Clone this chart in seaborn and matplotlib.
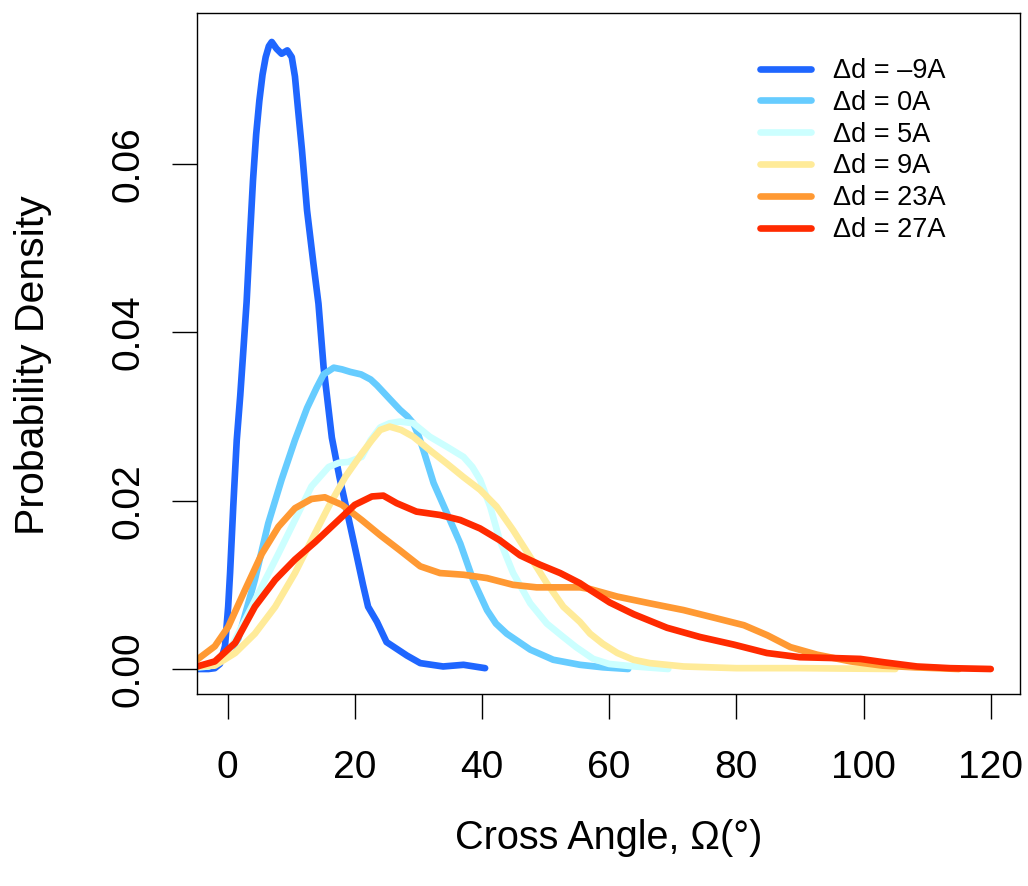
import numpy as np
import pandas as pd
import matplotlib
matplotlib.use("Agg")
import matplotlib.pyplot as plt
import seaborn as sns
from matplotlib.lines import Line2D

# ---------------- data ----------------
labels = ["\u0394d = \u20139A", "\u0394d = 0A", "\u0394d = 5A",
          "\u0394d = 9A", "\u0394d = 23A", "\u0394d = 27A"]
colors = ["#1F66FF", "#66CCFF", "#CCFFFF", "#FFEB99", "#FF9933", "#FF2A00"]

x_m9 = [-4.8, -3.0, -2.0, -1.2, -0.4, 0.1, 0.4, 0.9, 1.45, 2.0, 2.5, 3.0, 3.5,
        4.0, 4.5, 5.0, 5.5, 6.0, 6.5, 6.95, 7.7, 8.5, 9.4, 10.1, 10.6, 11.1,
        11.7, 12.5, 13.5, 14.3, 15.1, 16.4, 17.6, 19.0, 20.3, 21.3, 22.1, 23.5,
        25.0, 26.6, 28.2, 30.3, 33.9, 37.1, 40.5]
y_m9 = [0.0000, 0.0000, 0.0001, 0.0006, 0.0027, 0.0074, 0.0114, 0.0193, 0.0272,
        0.0325, 0.0380, 0.0436, 0.0510, 0.0580, 0.0635, 0.0675, 0.0706, 0.0727,
        0.0740, 0.0745, 0.0737, 0.0731, 0.0735, 0.0727, 0.0704, 0.0664, 0.0617,
        0.0545, 0.0482, 0.0434, 0.0359, 0.0275, 0.0228, 0.0180, 0.0135, 0.0100,
        0.0074, 0.0056, 0.0032, 0.0024, 0.0016, 0.0007, 0.0003, 0.0005, 0.0001]

x_0 = [-4.8, -3.0, -1.5, 0.0, 1.7, 4.3, 6.4, 8.5, 10.6, 12.5, 14.0, 15.1, 16.7,
       18.0, 19.3, 21.0, 22.5, 23.5, 25.6, 27.1, 28.3, 29.2, 30.0, 30.8, 32.4,
       34.5, 36.6, 38.6, 40.8, 42.2, 43.9, 47.6, 51.2, 55.4, 59.0, 63.0]
y_0 = [0.0002, 0.0003, 0.0008, 0.0018, 0.0036, 0.0106, 0.0173, 0.0225, 0.0272,
       0.0310, 0.0334, 0.0350, 0.0358, 0.0356, 0.0353, 0.0350, 0.0344, 0.0337,
       0.0320, 0.0308, 0.0300, 0.0292, 0.0278, 0.0260, 0.0221, 0.0185, 0.0149,
       0.0106, 0.0070, 0.0054, 0.0042, 0.0023, 0.0011, 0.0005, 0.0002, 0.0000]

x_5 = [-4.8, -3.0, -1.5, 0.1, 2.75, 5.4, 8.0, 10.6, 13.2, 15.9, 17.5, 19.0, 21.1,
       22.5, 24.0, 25.5, 27.1, 29.2, 31.8, 34.5, 37.1, 38.5, 39.7, 41.3, 42.8,
       44.9, 47.6, 50.2, 52.8, 54.8, 57.5, 60.0, 64.0, 69.3]
y_5 = [0.0002, 0.0003, 0.0008, 0.0019, 0.0058, 0.0098, 0.0137, 0.0177, 0.0217,
       0.0240, 0.0245, 0.0246, 0.0252, 0.0272, 0.0287, 0.0292, 0.0294, 0.0292,
       0.0276, 0.0264, 0.0252, 0.0240, 0.0225, 0.0193, 0.0153, 0.0114, 0.0078,
       0.0054, 0.0038, 0.0026, 0.0012, 0.0006, 0.0003, 0.0000]

x_9 = [-4.8, -2.0, 1.2, 4.3, 7.5, 10.6, 13.2, 15.9, 18.5, 21.1, 22.7, 24.0, 25.5,
       27.3, 29.2, 31.8, 34.5, 37.1, 39.7, 42.3, 44.9, 47.6, 50.2, 52.8, 55.4,
       57.0, 59.0, 61.3, 63.8, 66.4, 71.7, 80.0, 90.0, 105.0]
y_9 = [0.0003, 0.0004, 0.0019, 0.0042, 0.0074, 0.0114, 0.0153, 0.0193, 0.0228,
       0.0256, 0.0272, 0.0284, 0.0288, 0.0284, 0.0276, 0.0260, 0.0244, 0.0228,
       0.0213, 0.0193, 0.0165, 0.0133, 0.0102, 0.0074, 0.0056, 0.0042, 0.0030,
       0.0019, 0.0011, 0.0007, 0.0003, 0.0001, 0.0001, 0.0000]

x_23 = [-4.8, -2.0, 0.1, 2.75, 5.4, 8.0, 10.6, 13.2, 15.3, 18.0, 21.1, 24.0,
        27.1, 30.3, 33.4, 37.1, 40.8, 44.9, 48.6, 55.4, 57.0, 61.3, 66.4, 71.7,
        77.0, 81.2, 84.9, 88.5, 92.7, 98.0, 103.0, 108.0, 115.0]
y_23 = [0.0011, 0.0027, 0.0050, 0.0094, 0.0137, 0.0169, 0.0191, 0.0202, 0.0204,
        0.0195, 0.0177, 0.0159, 0.0141, 0.0122, 0.0114, 0.0112, 0.0108, 0.0100,
        0.0097, 0.0097, 0.0095, 0.0086, 0.0078, 0.0070, 0.0060, 0.0052, 0.0040,
        0.0026, 0.0017, 0.0009, 0.0004, 0.0002, 0.0000]

x_27 = [-4.8, -2.0, 1.2, 4.3, 7.5, 10.6, 13.8, 16.9, 20.0, 22.7, 24.5, 26.6, 29.7,
        33.4, 36.6, 39.7, 42.8, 46.0, 49.1, 52.3, 55.4, 57.0, 60.1, 63.9, 69.1,
        74.3, 79.6, 84.8, 90.0, 95.3, 99.5, 103.2, 108.4, 113.6, 120.0]
y_27 = [0.0003, 0.0009, 0.0031, 0.0074, 0.0106, 0.0130, 0.0151, 0.0173, 0.0195,
        0.0205, 0.0206, 0.0197, 0.0187, 0.0183, 0.0177, 0.0167, 0.0153, 0.0135,
        0.0124, 0.0114, 0.0102, 0.0094, 0.0079, 0.0065, 0.0049, 0.0038, 0.0029,
        0.0019, 0.0014, 0.0013, 0.0012, 0.0008, 0.0003, 0.0001, 0.0000]

xs = [x_m9, x_0, x_5, x_9, x_23, x_27]
ys = [y_m9, y_0, y_5, y_9, y_23, y_27]

x_ticks = [0, 20, 40, 60, 80, 100, 120]
y_ticks = [0.00, 0.02, 0.04, 0.06]
y_tick_labels = ["0.00", "0.02", "0.04", "0.06"]

# ---------------- build long frame ----------------
frames = []
for lab, xv, yv in zip(labels, xs, ys):
    frames.append(pd.DataFrame({"angle": xv, "density": yv, "series": lab}))
df = pd.concat(frames, ignore_index=True)

sns.set_style("ticks")
plt.rcParams["font.family"] = ["Liberation Sans", "DejaVu Sans"]
plt.rcParams["text.color"] = "black"
plt.rcParams["axes.labelcolor"] = "black"
plt.rcParams["xtick.color"] = "black"
plt.rcParams["ytick.color"] = "black"
plt.rcParams["axes.edgecolor"] = "black"

fig = plt.figure(figsize=(10.28, 8.86), dpi=100)
W, H = 1028, 886
left, right, top, bottom = 197, 1020, 13, 694
ax = fig.add_axes([left / W, (H - bottom) / H, (right - left) / W, (bottom - top) / H])

sns.lineplot(data=df, x="angle", y="density", hue="series", hue_order=labels,
             palette=colors, sort=False, estimator=None, units="series",
             linewidth=4.8, ax=ax, legend=False)
for ln in ax.get_lines():
    ln.set_solid_capstyle("round")
    ln.set_solid_joinstyle("round")

ax.set_xlim(-4.8, 124.6)
ax.set_ylim(-0.00297, 0.07794)

ax.set_xticks(x_ticks)
ax.set_xticklabels([str(t) for t in x_ticks], fontsize=28)
ax.set_yticks(y_ticks)
ax.set_yticklabels(y_tick_labels, fontsize=28, rotation=90, va="center")
ax.tick_params(axis="x", length=18, width=1.0, colors="black", pad=22)
ax.tick_params(axis="y", length=18, width=1.0, colors="black", pad=18)

for sp in ax.spines.values():
    sp.set_visible(True)
    sp.set_color("black")
    sp.set_linewidth(1.0)

ax.set_xlabel("Cross Angle, \u03a9(\u00b0)", fontsize=28.5, va="top", color="black")
ax.xaxis.set_label_coords(0.5, -0.1836)
ax.set_ylabel("Probability Density", fontsize=29.5, color="black")
ax.yaxis.set_label_coords(-0.1766, 0.483)

# legend (no frame), like base R legend(bty="n")
handles = [Line2D([0], [0], color=c, lw=4.8, solid_capstyle="round") for c in colors]
leg = fig.legend(handles, labels, loc="upper left",
                 bbox_to_anchor=(760 / W, 1 - 58 / H), frameon=False,
                 fontsize=19.5, handlelength=1.9, handletextpad=0.8,
                 labelspacing=0.215, borderpad=0, borderaxespad=0)
for t in leg.get_texts():
    t.set_color("black")

fig.savefig("out.png", dpi=100)
